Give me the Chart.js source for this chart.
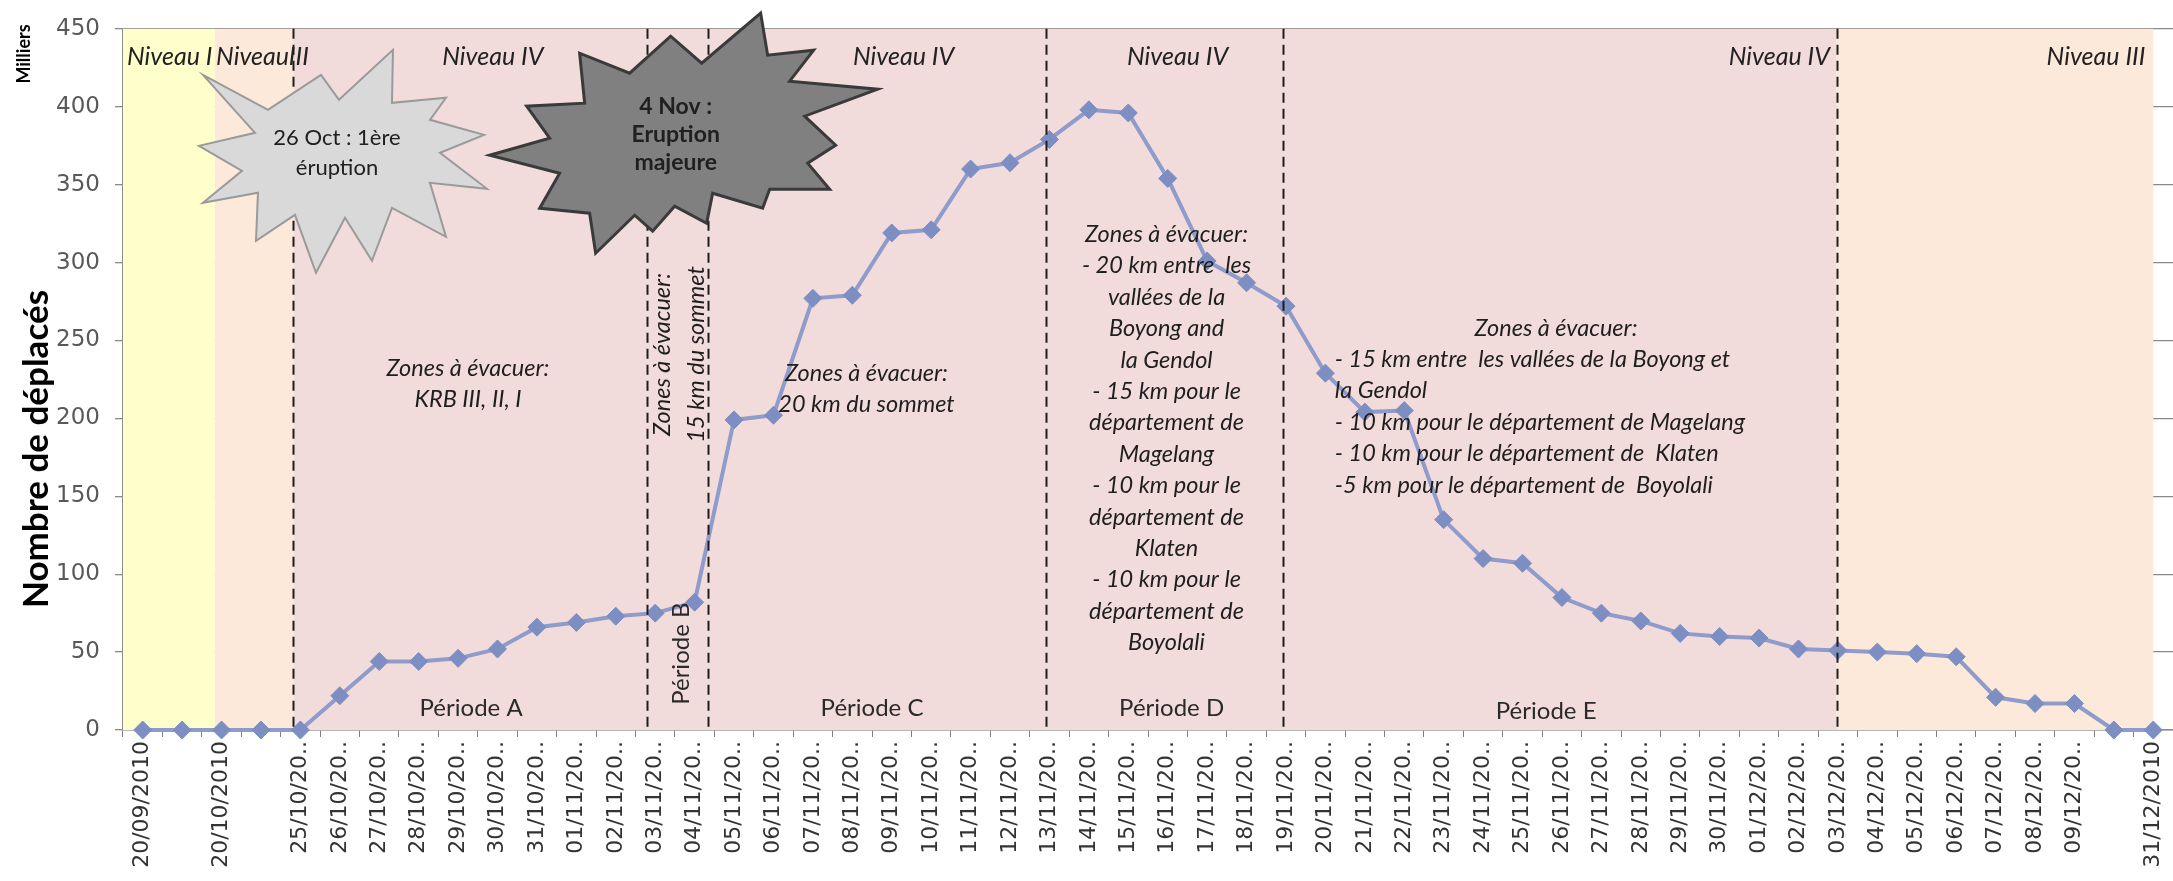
<!DOCTYPE html>
<html lang="fr">
<head>
<meta charset="utf-8">
<title>Nombre de déplacés – Merapi 2010</title>
<script src="https://cdn.jsdelivr.net/npm/chart.js@4.4.1/dist/chart.umd.min.js"></script>
<style>
  html, body { margin: 0; padding: 0; background: #ffffff; }
  #frame { position: relative; width: 2173px; height: 881px; }
</style>
</head>
<body>
<div id="frame"><canvas id="deplaces" width="2173" height="881"></canvas></div>
<script>
// Dates des relevés (libellés de l'axe horizontal, tronqués comme dans le classeur)
const dates = [
  '20/09/2010', '', '20/10/2010', '',
  '25/10/20..', '26/10/20..', '27/10/20..', '28/10/20..', '29/10/20..', '30/10/20..', '31/10/20..',
  '01/11/20..', '02/11/20..', '03/11/20..', '04/11/20..', '05/11/20..', '06/11/20..', '07/11/20..',
  '08/11/20..', '09/11/20..', '10/11/20..', '11/11/20..', '12/11/20..', '13/11/20..', '14/11/20..',
  '15/11/20..', '16/11/20..', '17/11/20..', '18/11/20..', '19/11/20..', '20/11/20..', '21/11/20..',
  '22/11/20..', '23/11/20..', '24/11/20..', '25/11/20..', '26/11/20..', '27/11/20..', '28/11/20..',
  '29/11/20..', '30/11/20..', '01/12/20..', '02/12/20..', '03/12/20..', '04/12/20..', '05/12/20..',
  '06/12/20..', '07/12/20..', '08/12/20..', '09/12/20..', '', '31/12/2010'
];

// Nombre de déplacés (milliers)
const deplaces = [
  0, 0, 0, 0,
  0, 22, 44, 44, 46, 52, 66,
  69, 73, 75, 82, 199, 202, 277,
  279, 319, 321, 360, 364, 379, 398,
  396, 354, 301, 287, 272, 229, 204,
  205, 135, 110, 107, 85, 75, 70,
  62, 60, 59, 52, 51, 50, 49,
  47, 21, 17, 17, 0, 0
];

// Graduations de l'axe vertical (milliers)
const yTicks = [0, 50, 100, 150, 200, 250, 300, 350, 400, 450];

// Niveaux d'alerte : plages de fond, bornes exprimées en rang de date
const alertBands = [
  { from: -0.5, to: 1.83, color: '#FFFFCC' },
  { from: 1.83, to: 3.82, color: '#FDE9D9' },
  { from: 3.82, to: 42.97, color: '#F2DCDB' },
  { from: 42.97, to: 51, color: '#FDE9D9' }
];

// Séparations entre les périodes A à E (rang de date)
const periodBreaks = [3.82, 12.8, 14.33, 22.9, 28.93, 42.97];

// Intitulés des niveaux d'alerte (haut du graphique)
const levelLabels = [
  { text: 'Niveau I',  at: -0.40, align: 'left' },
  { text: 'NiveauIII', at: 1.86,  align: 'left' },
  { text: 'Niveau IV', at: 8.88,  align: 'center' },
  { text: 'Niveau IV', at: 19.3,  align: 'center' },
  { text: 'Niveau IV', at: 26.25, align: 'center' },
  { text: 'Niveau IV', at: 42.8,  align: 'right' },
  { text: 'Niveau III', at: 50.8, align: 'right' }
];

// Noms des périodes (bas du graphique)
const periodLabels = [
  { text: 'Période A', at: 8.33, value: 14, rotate: false },
  { text: 'Période B', at: 13.65, value: 49, rotate: true },
  { text: 'Période C', at: 18.5, value: 14, rotate: false },
  { text: 'Période D', at: 26.1, value: 14, rotate: false },
  { text: 'Période E', at: 35.6, value: 12, rotate: false }
];

// Zones à évacuer, par période
const zoneNotes = [
  { lines: ['Zones à évacuer:', 'KRB III, II, I'], at: 8.25, value: 232, align: 'center' },
  { lines: ['Zones à évacuer:', '15 km du sommet'], at: 13.18, value: 241, rotate: true },
  { lines: ['Zones à évacuer:', '20 km du sommet'], at: 18.36, value: 229, align: 'center' },
  { lines: ['Zones à évacuer:', '- 20 km entre  les', 'vallées de la', 'Boyong and', 'la Gendol',
            '- 15 km pour le', 'département de', 'Magelang', '- 10 km pour le', 'département de',
            'Klaten', '- 10 km pour le', 'département de', 'Boyolali'], at: 25.97, value: 318, align: 'center' },
  { heading: 'Zones à évacuer:', headingAt: 35.85,
    lines: ['- 15 km entre  les vallées de la Boyong et', 'la Gendol',
            '- 10 km pour le département de Magelang', '- 10 km pour le département de  Klaten',
            '-5 km pour le département de  Boyolali'], at: 30.24, value: 258, align: 'left' }
];

// Éruptions signalées par des étoiles
const eruptions = [
  { lines: ['26 Oct : 1ère', 'éruption'], at: 5.08, value: 364, bold: false },
  { lines: ['4 Nov :', 'Eruption', 'majeure'], at: 13.62, value: 383, bold: true }
];

// Contours des étoiles (décalages en pixels autour du point d'ancrage)
const starShapes = [
  {
    fill: '#D9D9D9', stroke: '#9A9A9A', width: 2, textDy: -25, textDx: -6, lh: 30,
    pts: [[-140,-88],[-75,-53],[-22,-88],[-4,-63],[50,-113],[49,-60],[103,-65],[87,-43],
          [141,-28],[97,-10],[144,26],[87,20],[103,74],[49,45],[29,98],[2,55],
          [-27,110],[-48,52],[-87,78],[-85,30],[-140,40],[-101,8],[-144,-17],[-88,-30]]
  },
  {
    fill: '#808080', stroke: '#3A3A3A', width: 3, textDy: -27, textDx: -4, lh: 28,
    pts: [[81,-120],[88,-78],[134,-83],[110,-52],[198,-44],[125,-17],[156,12],[128,30],
          [150,56],[90,56],[83,75],[33,60],[27,90],[-5,73],[-27,98],[-45,82],
          [-84,120],[-90,80],[-140,75],[-120,40],[-190,22],[-130,5],[-153,-27],[-95,-30],
          [-100,-80],[-50,-60],[-9,-97],[22,-70]]
  }
];

const notesPlugin = {
  id: 'merapiNotes',
  beforeDatasetsDraw(chart) {
    // fond coloré des niveaux d'alerte
    const { ctx, chartArea: a, scales: { x } } = chart;
    ctx.save();
    alertBands.forEach(b => {
      const x0 = x.getPixelForValue(b.from), x1 = x.getPixelForValue(b.to);
      ctx.fillStyle = b.color;
      ctx.fillRect(x0, a.top, x1 - x0, a.bottom - a.top);
    });
    ctx.restore();
  },
  afterDatasetsDraw(chart) {
    const { ctx, chartArea: a, scales: { x, y } } = chart;
    ctx.save();

    // séparations de périodes
    ctx.strokeStyle = '#1E1E1E';
    ctx.lineWidth = 2;
    ctx.setLineDash([10, 6]);
    periodBreaks.forEach(p => {
      const xp = Math.round(x.getPixelForValue(p)) + 0.5;
      ctx.beginPath();
      ctx.moveTo(xp, a.top);
      ctx.lineTo(xp, a.bottom);
      ctx.stroke();
    });
    ctx.setLineDash([]);

    const fam = '"Lato", "Open Sans", sans-serif';
    ctx.fillStyle = '#222222';
    ctx.textBaseline = 'middle';

    // niveaux d'alerte
    ctx.font = 'italic 25px ' + fam;
    levelLabels.forEach(l => {
      ctx.textAlign = l.align;
      ctx.fillText(l.text, x.getPixelForValue(l.at), y.getPixelForValue(432));
    });

    // périodes
    ctx.font = '24px ' + fam;
    ctx.fillStyle = '#2A2A2A';
    periodLabels.forEach(l => {
      const xp = x.getPixelForValue(l.at), yp = y.getPixelForValue(l.value);
      ctx.textAlign = 'center';
      if (l.rotate) {
        ctx.save();
        ctx.translate(xp, yp);
        ctx.rotate(-Math.PI / 2);
        ctx.fillText(l.text, 0, 0);
        ctx.restore();
      } else {
        ctx.fillText(l.text, xp, yp);
      }
    });

    // zones à évacuer
    ctx.fillStyle = '#1E1E1E';
    ctx.font = 'italic 23.5px ' + fam;
    const lh = 31.4;
    zoneNotes.forEach(n => {
      const xp = x.getPixelForValue(n.at), yp = y.getPixelForValue(n.value);
      if (n.rotate) {
        ctx.save();
        ctx.translate(xp, yp);
        ctx.rotate(-Math.PI / 2);
        ctx.textAlign = 'center';
        n.lines.forEach((t, k) => ctx.fillText(t, 0, k * 34));
        ctx.restore();
        return;
      }
      let row = 0;
      if (n.heading) {
        ctx.textAlign = 'center';
        ctx.fillText(n.heading, x.getPixelForValue(n.headingAt), yp);
        row = 1;
      }
      ctx.textAlign = n.align;
      n.lines.forEach((t, k) => ctx.fillText(t, xp, yp + (k + row) * lh));
    });

    // étoiles des éruptions
    eruptions.forEach((e, k) => {
      const s = starShapes[k];
      const cx = x.getPixelForValue(e.at), cy = y.getPixelForValue(e.value);
      ctx.beginPath();
      s.pts.forEach(([dx, dy], i) => (i ? ctx.lineTo(cx + dx, cy + dy) : ctx.moveTo(cx + dx, cy + dy)));
      ctx.closePath();
      ctx.fillStyle = s.fill;
      ctx.fill();
      ctx.lineWidth = s.width;
      ctx.lineJoin = 'miter';
      ctx.strokeStyle = s.stroke;
      ctx.stroke();
      ctx.fillStyle = '#202020';
      ctx.textAlign = 'center';
      ctx.font = (e.bold ? 'bold 23px ' : '22px ') + fam;
      e.lines.forEach((t, i) => ctx.fillText(t, cx + s.textDx, cy + s.textDy + i * s.lh));
    });

    ctx.restore();
  },
  afterDraw(chart) {
    // titres de l'axe vertical
    const { ctx } = chart;
    const fam = '"Lato", "Open Sans", sans-serif';
    ctx.save();
    ctx.fillStyle = '#000000';
    ctx.textAlign = 'center';
    ctx.textBaseline = 'middle';
    ctx.translate(37, 449);
    ctx.rotate(-Math.PI / 2);
    ctx.font = 'bold 35px ' + fam;
    ctx.fillText('Nombre de déplacés', 0, 0);
    ctx.restore();
    ctx.save();
    ctx.fillStyle = '#000000';
    ctx.textAlign = 'center';
    ctx.textBaseline = 'middle';
    ctx.translate(24, 54);
    ctx.rotate(-Math.PI / 2);
    ctx.font = 'bold 18px ' + fam;
    ctx.fillText('Milliers', 0, 0);
    ctx.restore();
  }
};

new Chart(document.getElementById('deplaces'), {
  type: 'line',
  data: {
    labels: dates,
    datasets: [{
      label: 'Déplacés (milliers)',
      data: deplaces,
      borderColor: '#8E9BCB',
      borderWidth: 4,
      tension: 0,
      pointStyle: 'rectRot',
      pointRadius: 9,
      pointHoverRadius: 9,
      pointBackgroundColor: '#7D8EC2',
      pointBorderColor: '#7D8EC2',
      pointBorderWidth: 1,
      clip: false
    }]
  },
  options: {
    responsive: false,
    animation: false,
    devicePixelRatio: 1,
    layout: { autoPadding: false, padding: { top: 25, left: 0, right: 0, bottom: 0 } },
    plugins: { legend: { display: false }, tooltip: { enabled: false } },
    scales: {
      x: {
        type: 'category',
        offset: true,
        grid: { offset: true, drawOnChartArea: false, drawTicks: true, tickLength: 7, color: '#7F7F7F', lineWidth: 1 },
        border: { display: true, color: '#8C8C8C', width: 1.5 },
        ticks: {
          autoSkip: false, minRotation: 90, maxRotation: 90, padding: 4,
          color: '#333333', font: { family: 'DejaVu Sans', size: 22 }
        },
        afterFit(s) { s.height = 151; s.paddingLeft = 0; s.paddingRight = 0; }
      },
      y: {
        min: 0,
        max: 450,
        afterBuildTicks(s) { s.ticks = yTicks.map(v => ({ value: v })); },
        grid: { color: '#8A8A8A', lineWidth: 1.3, tickLength: 8, drawTicks: true },
        border: { display: true, color: '#8C8C8C', width: 1.5 },
        ticks: { padding: 15, color: '#595959', font: { family: 'DejaVu Sans', size: 23 } },
        afterFit(s) { s.width = 123; }
      }
    }
  },
  plugins: [notesPlugin]
});
</script>
</body>
</html>
